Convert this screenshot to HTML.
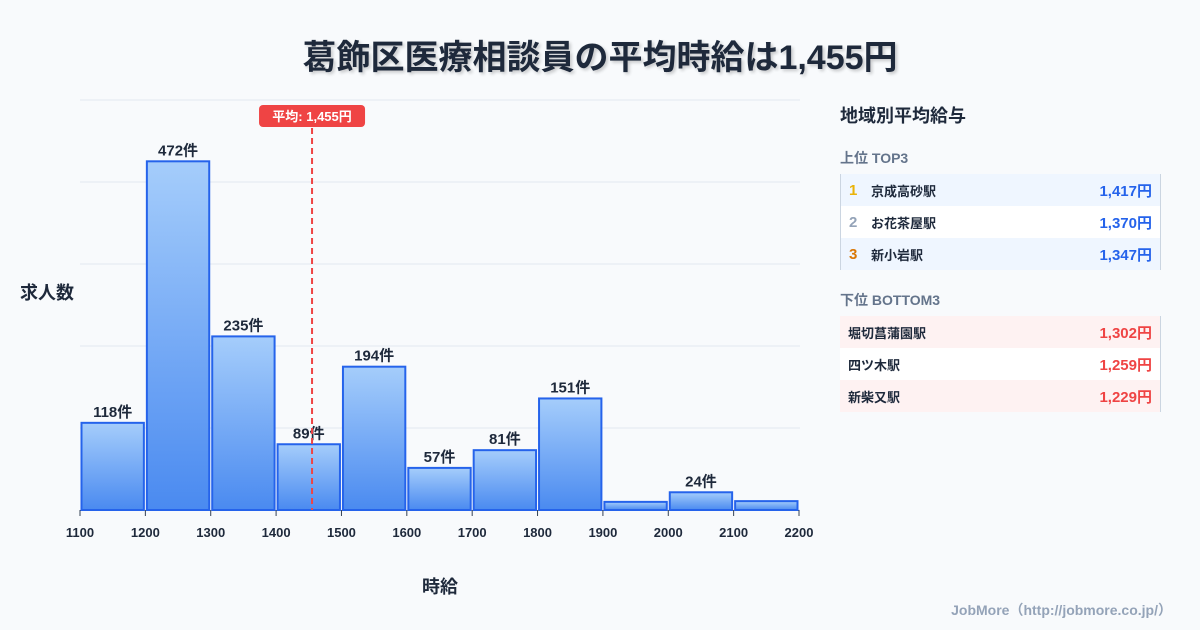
<!DOCTYPE html>
<html><head><meta charset="utf-8"><style>
body{margin:0;width:1200px;height:630px;background:#f8fafc;font-family:"Liberation Sans","Noto Sans CJK JP",sans-serif;position:relative;overflow:hidden;color:#1e293b}
.title{position:absolute;top:30px;left:0;width:1200px;text-align:center;font-size:34px;font-weight:700;color:#1e293b;text-shadow:2px 2px 3px rgba(0,0,0,.2)}
.panel{position:absolute;left:840px;top:96px;width:321px}
.h{font-size:18px;font-weight:700;margin-top:6px}
.sub{font-size:14px;font-weight:700;color:#64748b;margin:20px 0 6px}
.row{height:32px;display:flex;align-items:center;font-size:13px;font-weight:700;padding:0 8px;border-right:1px solid #cbd5e1}
.row .n{width:22px;font-size:15px}
.row .nm{flex:1}
.row .v{font-size:15px}
.top .row{border-left:1px solid #cbd5e1}.top .row:nth-child(odd){background:#eff6ff}.top .row:nth-child(even){background:#fff}
.bot .row:nth-child(odd){background:#fef2f2}.bot .row:nth-child(even){background:#fff}
.top .v{color:#2563eb}.bot .v{color:#ef4444}
.foot{position:absolute;right:28px;bottom:10px;font-size:14px;color:#94a3b8;font-weight:700}
</style></head><body>
<div class="title">葛飾区医療相談員の平均時給は1,455円</div>
<svg id="c" width="820" height="630" style="position:absolute;left:0;top:0"></svg>
<div class="panel">
<div class="h">地域別平均給与</div>
<div class="sub">上位 TOP3</div>
<div class="top">
<div class="row"><span class="n" style="color:#eab308">1</span><span class="nm">京成高砂駅</span><span class="v">1,417円</span></div>
<div class="row"><span class="n" style="color:#94a3b8">2</span><span class="nm">お花茶屋駅</span><span class="v">1,370円</span></div>
<div class="row"><span class="n" style="color:#d97706">3</span><span class="nm">新小岩駅</span><span class="v">1,347円</span></div>
</div>
<div class="sub">下位 BOTTOM3</div>
<div class="bot">
<div class="row"><span class="nm">堀切菖蒲園駅</span><span class="v">1,302円</span></div>
<div class="row"><span class="nm">四ツ木駅</span><span class="v">1,259円</span></div>
<div class="row"><span class="nm">新柴又駅</span><span class="v">1,229円</span></div>
</div></div>
<div class="foot">JobMore（http://jobmore.co.jp/）</div>
<script>
const binStarts=[1100,1200,1300,1400,1500,1600,1700,1800,1900,2000,2100];
const counts=[118,472,235,89,194,57,81,151,11,24,12];
const xTicks=[1100,1200,1300,1400,1500,1600,1700,1800,1900,2000,2100,2200];
const meanValue=1455;
const svg=document.getElementById('c'),NS='http://www.w3.org/2000/svg';
const X=v=>80+(v-1100)*(719/1100), Y=v=>510-v*(410/555);
function mk(t,a,p){const e=document.createElementNS(NS,t);for(const k in a)e.setAttribute(k,a[k]);(p||svg).appendChild(e);return e;}
const defs=mk('defs',{});const g=mk('linearGradient',{id:'bg',x1:0,y1:0,x2:0,y2:1},defs);
mk('stop',{offset:0,'stop-color':'#a5cdfb'},g);mk('stop',{offset:1,'stop-color':'#4a8af0'},g);
for(let i=0;i<6;i++){const l=mk('line',{x1:80,x2:800,y1:100+i*82,y2:100+i*82,stroke:'#e2e8f0'});}
binStarts.forEach((b,i)=>{const x0=X(b)+1.5,x1=X(b+100)-1.5,y=Y(counts[i]);
const r=mk('rect',{x:x0,y:y,width:x1-x0,height:510-y,fill:'url(#bg)',stroke:'#2563eb','stroke-width':2});

if(counts[i]>=20){const t=mk('text',{x:(x0+x1)/2,y:y-6,'text-anchor':'middle','font-size':15,'font-weight':700,fill:'#1e293b'});t.textContent=counts[i]+'件';}});
xTicks.forEach(v=>{mk('line',{x1:X(v),x2:X(v),y1:510,y2:516,stroke:'#334155'});const t=mk('text',{x:X(v),y:537,'text-anchor':'middle','font-size':13,'font-weight':700,fill:'#1e293b'});t.textContent=v;});
const mx=X(meanValue);const ml=mk('line',{x1:mx,x2:mx,y1:128,y2:510,stroke:'#ef4444','stroke-width':2,'stroke-dasharray':'6,4'});
mk('rect',{x:mx-53,y:105,width:106,height:22,rx:4,fill:'#ef4444'});
const mt=mk('text',{x:mx,y:121,'text-anchor':'middle','font-size':13,'font-weight':700,fill:'#fff'});mt.textContent='平均: 1,455円';
const yt=mk('text',{x:20,y:299,'font-size':18,'font-weight':700,fill:'#1e293b'});yt.textContent='求人数';
const xt=mk('text',{x:440,y:593,'text-anchor':'middle','font-size':18,'font-weight':700,fill:'#1e293b'});xt.textContent='時給';
</script></body></html>
